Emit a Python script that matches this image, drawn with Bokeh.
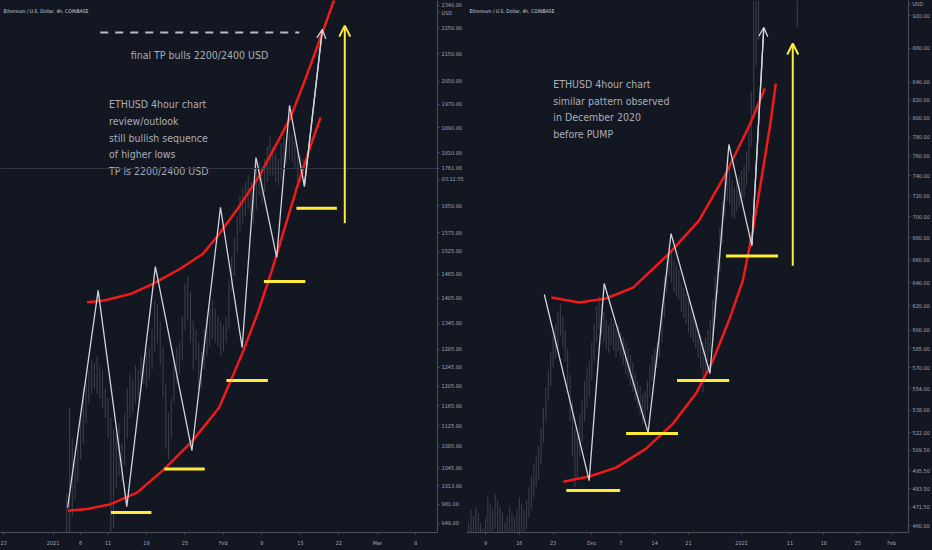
from bokeh.plotting import figure
from bokeh.layouts import row
from bokeh.models import (Range1d, FixedTicker, PrintfTickFormatter, Label, Arrow,
                          OpenHead, Span, GlobalInlineStyleSheet)
from bokeh.core.properties import value
from bokeh.embed import file_html
from bokeh.resources import INLINE

# ---------------- data ----------------
# LEFT panel: ETHUSD 4h (x = days since 1 Jan 2021, y = USD, log scale)
left_x_ticks = [-9, 0, 5, 10, 17, 24, 31, 38, 45, 52, 59, 66]
left_x_labels = ["23", "2021", "6", "11", "18", "25", "Feb", "8", "15", "22", "Mar", "8"]
left_y_ticks = [949, 981, 1013, 1045, 1085, 1125, 1165, 1205, 1245, 1285, 1345, 1405,
                1465, 1525, 1575, 1650, 1810, 1890, 1970, 2050, 2150, 2250, 2340]
left_last_price = 1761.08
# extra texts on the price scale: value -> text
left_axis_tags = {1761.08: "1761.08", 1727.6: "03:12:55", 2311: "USD"}
left_candle_start = 2.5   # half-day bars
left_candle_high = [1000, 1160, 1100, 1060, 1110, 1150, 1200, 1215, 1240, 1260,
                    1255, 1270, 1250, 1240, 1200, 1180, 1140, 1120, 1110, 1130,
                    1090, 1150, 1200, 1230, 1220, 1250, 1240, 1270, 1260, 1280,
                    1290, 1330, 1400, 1390, 1350, 1290, 1210, 1150, 1180, 1260,
                    1290, 1300, 1360, 1440, 1460, 1420, 1350, 1330, 1300, 1280,
                    1330, 1360, 1380, 1400, 1380, 1360, 1350, 1340, 1360, 1450,
                    1510, 1560, 1620, 1680, 1700, 1720, 1740, 1720, 1700, 1760,
                    1780, 1760, 1790, 1830, 1860, 1830, 1810, 1790, 1840, 1860,
                    1850, 1880, 1870, 1850, 1830, 1800, 1790]
left_candle_low = [900, 890, 960, 990, 1020, 1060, 1090, 1130, 1170, 1190,
                   1200, 1190, 1180, 1160, 1140, 1100, 900, 940, 1010, 1030,
                   1020, 1050, 1100, 1140, 1150, 1170, 1180, 1200, 1210, 1200,
                   1220, 1240, 1280, 1300, 1250, 1180, 1080, 1060, 1100, 1170,
                   1210, 1230, 1260, 1330, 1350, 1300, 1240, 1260, 1200, 1200,
                   1240, 1270, 1290, 1310, 1300, 1290, 1270, 1280, 1300, 1330,
                   1420, 1460, 1520, 1580, 1600, 1620, 1640, 1620, 1600, 1640,
                   1680, 1660, 1690, 1720, 1740, 1740, 1720, 1710, 1730, 1760,
                   1780, 1790, 1780, 1760, 1720, 1720, 1740]
left_zig_x = [2.64, 8.20, 13.41, 18.61, 25.26, 30.46, 34.41, 36.92, 40.69, 43.03, 45.72, 49.0]
left_zig_y = [975, 1424, 977, 1484, 1077, 1646, 1289, 1795, 1508, 1966, 1707, 2244]
left_upper_x = [6.17, 9.28, 14.07, 18.25, 23.05, 27.23, 30.23, 33.82, 37.41, 40.70,
                43.21, 45.54, 48.23, 51.1, 51.82]
left_upper_y = [1395, 1399, 1415, 1441, 1478, 1517, 1571, 1647, 1735, 1839,
                1925, 2039, 2186, 2360, 2401]
left_lower_x = [2.69, 6.28, 10.48, 15.26, 20.05, 25.41, 30.23, 34.41, 37.41, 39.80,
                42.18, 44.59, 47.15, 48.68]
left_lower_y = [970, 973, 981, 1001, 1041, 1096, 1161, 1275, 1375, 1474,
                1589, 1715, 1846, 1925]
left_level_x0 = [10.54, 20.23, 31.54, 38.36, 44.28]
left_level_x1 = [17.89, 27.59, 39.08, 45.90, 51.64]
left_level_y = [967, 1043, 1217, 1446, 1643]
left_target_x = [8.58, 44.81]
left_target_y = [2232, 2232]
left_yarrow = (53.08, 1601, 2259)          # x, from, to
left_note_x = 10.18
left_note_y = [1969, 1912, 1858, 1805, 1753]
left_note_text = ["ETHUSD 4hour chart", "review/outlook", "still bullish sequence",
                  "of higher lows", "TP is 2200/2400 USD"]
left_tp_text = ("final TP bulls 2200/2400 USD", 14.13, 2148)

# RIGHT panel: ETHUSD 4h (x = days since 1 Dec 2020)
right_x_ticks = [-22, -15, -8, 0, 6, 13, 20, 31, 41, 48, 55, 62]
right_x_labels = ["9", "16", "23", "Dec", "7", "14", "21", "2021", "11", "18", "25", "Feb"]
right_y_ticks = [460, 471.5, 483.5, 495.5, 509.5, 522, 538, 554, 570, 585, 600, 620, 640,
                 660, 680, 700, 720, 740, 760, 780, 800, 820, 840, 880, 920]
right_axis_tags = {934: "USD"}
right_candle_start = -25.5
right_candle_high = [462, 470, 466, 472, 468, 462, 458, 465, 478, 474,
                     470, 480, 476, 472, 468, 462, 466, 472, 468, 465,
                     470, 478, 474, 470, 476, 485, 492, 500, 506, 512,
                     525, 540, 555, 568, 582, 595, 605, 615, 622, 612,
                     600, 585, 565, 545, 525, 520, 535, 545, 560, 570,
                     575, 590, 605, 620, 628, 622, 615, 608, 604, 610,
                     606, 600, 604, 598, 594, 590, 586, 580, 574, 566,
                     560, 556, 550, 552, 560, 572, 580, 585, 590, 600,
                     620, 645, 665, 672, 668, 660, 655, 652, 640, 635,
                     630, 625, 618, 612, 608, 600, 596, 590, 594, 600,
                     608, 625, 645, 665, 690, 715, 740, 755, 748, 735,
                     728, 735, 740, 745, 750, 765, 790, 830, 960, 1000]
right_candle_low = [440, 445, 448, 450, 446, 440, 436, 444, 452, 455,
                    452, 458, 456, 450, 446, 442, 446, 452, 450, 446,
                    450, 455, 456, 452, 458, 465, 470, 478, 485, 490,
                    500, 515, 530, 545, 556, 570, 578, 585, 595, 586,
                    575, 555, 530, 505, 485, 490, 505, 515, 530, 540,
                    548, 560, 575, 590, 600, 596, 590, 585, 582, 588,
                    584, 578, 583, 578, 572, 565, 562, 556, 552, 545,
                    540, 534, 528, 530, 538, 548, 560, 565, 570, 578,
                    590, 610, 630, 645, 640, 632, 628, 625, 615, 610,
                    605, 598, 594, 590, 585, 578, 570, 552, 565, 575,
                    582, 595, 610, 630, 650, 675, 700, 715, 712, 700,
                    698, 705, 710, 715, 718, 730, 745, 770, 800, 860]
right_spike_day = [34.5, 35.0, 41.5, 42.5]
right_spike_high = [1120, 1160, 1260, 1180]
right_spike_low = [890, 1010, 1050, 905]
right_zig_x = [-9.82, -0.54, 2.56, 11.64, 16.39, 24.44, 28.36, 33.11, 35.58]
right_zig_y = [629.7, 489.0, 639.2, 521.9, 684.1, 565.6, 772.1, 673.0, 905.1]
right_upper_x = [-8.38, -2.60, 2.97, 8.54, 15.98, 22.17, 27.74, 32.7, 35.79]
right_upper_y = [627.2, 622.9, 626.3, 635.7, 665.7, 696.3, 742.2, 793.3, 833.1]
right_lower_x = [-5.90, -0.54, 5.04, 11.23, 16.80, 21.55, 25.06, 28.36, 31.25, 33.31,
                 35.38, 37.03, 38.06]
right_lower_y = [488.3, 491.7, 497.7, 510.7, 528.4, 550.4, 575.7, 607.8, 641.8, 686.9,
                 745.3, 797.6, 838.8]
right_level_x0 = [-5.28, 7.10, 17.63, 27.74]
right_level_x1 = [5.86, 17.83, 28.42, 38.53]
right_level_y = [482.4, 521.4, 560.2, 663.6]
right_yarrow = (41.57, 654.9, 885.7)
right_note_x = -7.97
right_note_y = [838.8, 819.6, 802.0, 783.4]
right_note_text = ["ETHUSD 4hour chart", "similar pattern observed",
                   "in December 2020", "before PUMP"]

chart_title = "Ethereum / U.S. Dollar, 4h, COINBASE"

# ---------------- style ----------------
BG = "#131722"
AXIS = "#4a4e59"
TICK_TXT = "#a3a6af"
CANDLE = "#8a8d96"
RED = "#f01a1a"
YELLOW = "#ffeb3b"
WHITE = "#d1d4dc"
NOTE = "#aaadb6"
NARROW = "'DejaVu Sans Condensed', 'Liberation Sans', sans-serif"
TICK_SIZE = "5.5px"
FRAME_H = 532


def make_panel(xr, yr, xticks, xlabels, yticks, tags):
    p = figure(width=466, height=550, x_range=Range1d(*xr), y_range=Range1d(*yr),
               y_axis_type="log", y_axis_location="right",
               output_backend="svg", toolbar_location=None,
               min_border_left=0, min_border_top=0, min_border_right=23,
               min_border_bottom=18, background_fill_color=BG, border_fill_color=BG,
               outline_line_color=None)
    p.grid.visible = False
    p.xaxis.ticker = FixedTicker(ticks=xticks)
    p.xaxis.major_label_overrides = {t: l for t, l in zip(xticks, xlabels)}
    p.yaxis.ticker = FixedTicker(ticks=sorted(list(yticks) + list(tags.keys())))
    p.yaxis.formatter = PrintfTickFormatter(format="%.2f")
    p.yaxis.major_label_overrides = dict(tags)
    for ax in (p.xaxis[0], p.yaxis[0]):
        ax.axis_line_color = AXIS
        ax.major_tick_line_color = AXIS
        ax.minor_tick_line_color = None
        ax.major_tick_in = 0
        ax.major_tick_out = 2
        ax.major_label_standoff = 2
        ax.major_label_text_color = TICK_TXT
        ax.major_label_text_font = NARROW
        ax.major_label_text_font_size = TICK_SIZE
    p.xaxis.major_label_standoff = 5
    p.add_layout(Label(x=3, y=FRAME_H - 10, x_units="screen", y_units="screen",
                       text=chart_title, text_font=NARROW, text_font_size="5px",
                       text_color=WHITE, text_baseline="middle"))
    return p


def candles(p, days, highs, lows):
    p.segment(x0=days, y0=lows, x1=days, y1=highs, line_color=CANDLE,
              line_alpha=0.33, line_width=1.1)


def arrow(p, x0, y0, x1, y1, color, width, size):
    p.add_layout(Arrow(x_start=x0, y_start=y0, x_end=x1, y_end=y1, line_color=color,
                       line_width=width,
                       end=OpenHead(size=size, line_color=color, line_width=width)))


# ---------------- left panel ----------------
pl = make_panel((-9.57, 69.95), (933.8, 2360.0), left_x_ticks, left_x_labels,
                left_y_ticks, left_axis_tags)
ld = [left_candle_start + 0.5 * i for i in range(len(left_candle_high))]
candles(pl, ld, left_candle_high, left_candle_low)
pl.add_layout(Span(location=left_last_price, dimension="width", line_color="#343844",
                   line_width=1))
pl.line(left_upper_x, left_upper_y, line_color=RED, line_width=2.5)
pl.line(left_lower_x, left_lower_y, line_color=RED, line_width=2.5)
pl.line(left_zig_x, left_zig_y, line_color=WHITE, line_width=1.3)
arrow(pl, left_zig_x[-2], left_zig_y[-2], left_zig_x[-1], left_zig_y[-1], WHITE, 1.3, 9)
pl.segment(x0=left_level_x0, x1=left_level_x1, y0=left_level_y, y1=left_level_y,
           line_color=YELLOW, line_width=3)
arrow(pl, left_yarrow[0], left_yarrow[1], left_yarrow[0], left_yarrow[2], YELLOW, 2, 11)
pl.line(left_target_x, left_target_y, line_color="#b9bcc5", line_width=2, line_dash="8 7")
pl.text(x=[left_note_x] * len(left_note_text), y=left_note_y, text=left_note_text,
        text_font=value(NARROW), text_font_size="10.5px", text_color=NOTE,
        text_baseline="middle", text_align="left")
pl.text(x=[left_tp_text[1]], y=[left_tp_text[2]], text=[left_tp_text[0]],
        text_font=value(NARROW), text_font_size="10.5px", text_color=NOTE,
        text_baseline="middle", text_align="left")

# ---------------- right panel ----------------
pr = make_panel((-25.92, 65.51), (455.7, 939.0), right_x_ticks, right_x_labels,
                right_y_ticks, right_axis_tags)
rd = [right_candle_start + 0.5 * i for i in range(len(right_candle_high))]
candles(pr, rd, right_candle_high, right_candle_low)
candles(pr, right_spike_day, right_spike_high, right_spike_low)
pr.line(right_upper_x, right_upper_y, line_color=RED, line_width=2.5)
pr.line(right_lower_x, right_lower_y, line_color=RED, line_width=2.5)
pr.line(right_zig_x, right_zig_y, line_color=WHITE, line_width=1.3)
arrow(pr, right_zig_x[-2], right_zig_y[-2], right_zig_x[-1], right_zig_y[-1], WHITE, 1.3, 9)
pr.segment(x0=right_level_x0, x1=right_level_x1, y0=right_level_y, y1=right_level_y,
           line_color=YELLOW, line_width=3)
arrow(pr, right_yarrow[0], right_yarrow[1], right_yarrow[0], right_yarrow[2], YELLOW, 2, 11)
pr.text(x=[right_note_x] * len(right_note_text), y=right_note_y, text=right_note_text,
        text_font=value(NARROW), text_font_size="10.5px", text_color=NOTE,
        text_baseline="middle", text_align="left")

page_css = GlobalInlineStyleSheet(
    css="html, body { margin: 0 !important; padding: 0 !important; background: #131722; overflow: hidden; }")
layout = row(pl, pr, stylesheets=[page_css])

open("out.html", "w").write(file_html(layout, INLINE))
